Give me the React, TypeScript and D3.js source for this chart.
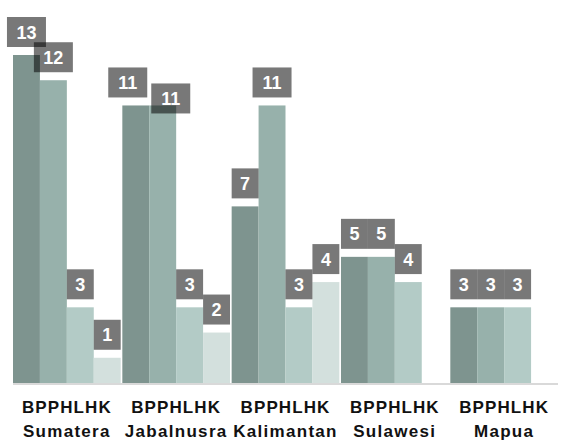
import React from "react";
import * as d3 from "d3";

const regions = ["Sumatera", "Jabalnusra", "Kalimantan", "Sulawesi", "Mapua"];
const groupTitle = "BPPHLHK";
const series1 = [13, 11, 7, 5, 3];
const series2 = [12, 11, 11, 5, 3];
const series3 = [3, 3, 3, 4, 3];
const series4: (number | null)[] = [1, 2, 4, null, null];
const seriesKeys = ["s1", "s2", "s3", "s4"];
const colors = ["#7e948f", "#97b1ab", "#b3cbc6", "#d3e0dd"];

const W = 565;
const H = 446;

export default function App() {
  const x = d3.scaleBand<string>().domain(regions).range([13, 558]).paddingInner(0.015);
  const xi = d3.scaleBand<string>().domain(seriesKeys).range([0, x.bandwidth()]).padding(0);
  const y = d3.scaleLinear().domain([0, 13]).range([383, 55]);

  const all = [series1, series2, series3, series4];
  const bars: { key: string; region: string; v: number; si: number }[] = [];
  regions.forEach((r, gi) => {
    all.forEach((s, si) => {
      const v = s[gi];
      if (v != null) bars.push({ key: `${r}-${si}`, region: r, v, si });
    });
  });

  const boxH = 30;
  const gap = 8;
  const labels: { key: string; x: number; y: number; w: number; v: number }[] = [];
  regions.forEach((r, gi) => {
    let prev: { x: number; y: number; w: number } | null = null;
    all.forEach((s, si) => {
      const v = s[gi];
      if (v == null) return;
      const cx = (x(r) as number) + (xi(seriesKeys[si]) as number) + xi.bandwidth() / 2;
      const w = String(v).length > 1 ? 39 : xi.bandwidth();
      let by = y(v) - gap - boxH;
      let bx = cx - w / 2;
      if (prev) {
        const hOverlap = bx < prev.x + prev.w - 1 && bx + w > prev.x + 1;
        if (hOverlap && Math.abs(by - prev.y) < 10) {
          const need = prev.x + prev.w + 4 - bx;
          prev.x -= need / 2;
          bx += need / 2;
          by = prev.y + 16;
        }
      }
      const lb = { key: `${r}-${si}`, x: bx, y: by, w, v };
      labels.push(lb);
      prev = lb;
    });
  });

  const font = "'Liberation Sans', Arial, sans-serif";

  return (
    <svg width={W} height={H} style={{ position: "absolute", left: 0, top: 0 }}>
      <rect width={W} height={H} fill="#ffffff" />
      {bars.map((b) => (
        <rect
          key={b.key}
          x={(x(b.region) as number) + (xi(seriesKeys[b.si]) as number)}
          y={y(b.v)}
          width={xi.bandwidth()}
          height={y(0) - y(b.v)}
          fill={colors[b.si]}
        />
      ))}
      <line x1={13} x2={558} y1={384} y2={384} stroke="#d9d9d9" strokeWidth={2} />
      {labels.map((l) => (
        <g key={l.key}>
          <rect x={l.x} y={l.y} width={l.w} height={boxH} fill="#000" fillOpacity={0.53} />
          <text
            x={l.x + l.w / 2}
            y={l.y + boxH / 2 + 6.5}
            textAnchor="middle"
            fill="#fff"
            fontFamily={font}
            fontWeight="bold"
            fontSize={18}
          >
            {l.v}
          </text>
        </g>
      ))}
      {regions.map((r) => {
        const cx = (x(r) as number) + x.bandwidth() / 2;
        return (
          <g key={r}>
            <text x={cx} y={413} textAnchor="middle" fill="#111" fontFamily={font} fontWeight="bold" fontSize={17} letterSpacing={1.1}>
              {groupTitle}
            </text>
            <text x={cx} y={437} textAnchor="middle" fill="#111" fontFamily={font} fontWeight="bold" fontSize={17} letterSpacing={1.3}>
              {r}
            </text>
          </g>
        );
      })}
    </svg>
  );
}
